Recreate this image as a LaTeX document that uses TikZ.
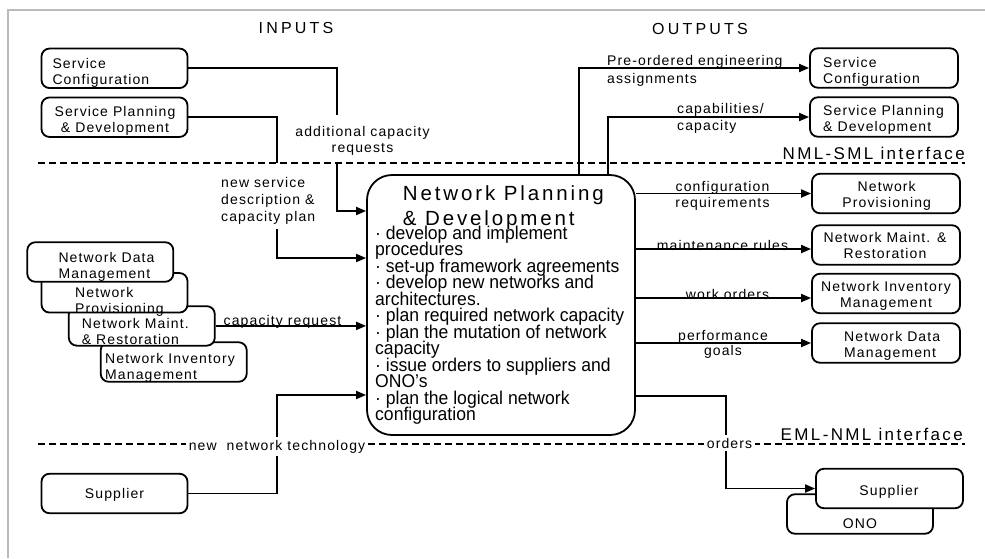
\documentclass[tikz,border=0pt]{standalone}
\usepackage{fontspec}
\setmainfont{Liberation Sans}
\newfontfamily\lblfont{Liberation Sans}[LetterSpace=8]
\newfontfamily\headfont{Liberation Sans}[LetterSpace=20]
\newfontfamily\ifacefont{Liberation Sans}[LetterSpace=14]
\newfontfamily\titlefont{Liberation Sans}[LetterSpace=14]
\newfontfamily\listfont{Liberation Sans}[FakeStretch=0.95]
% let lines of a tightly set list sit closer than their glyph heights
\newcommand\tightlines{\lineskiplimit=-100pt\relax\lineskip=0pt\relax}
\usetikzlibrary{arrows.meta}
\begin{document}
\begin{tikzpicture}[x=1pt,y=-1pt,
  box/.style={draw, line width=1.8pt, rounded corners=8pt, fill=white, inner sep=0pt,
              minimum width=146pt, minimum height=39.5pt},
  rbox/.style={box, minimum width=148pt},
  mainbox/.style={draw, line width=1.8pt, rounded corners=25pt, fill=white, inner sep=0pt,
              minimum width=268pt, minimum height=260pt},
  conn/.style={line width=1.8pt, -{Triangle[length=10pt,width=8pt]}},
  wire/.style={line width=1.8pt},
  iface/.style={line width=1.8pt, dash pattern=on 7pt off 4pt},
  frame/.style={draw=black!27, line width=1.6pt},
  lbl/.style={font=\lblfont\fontsize{14}{#1}\selectfont, inner sep=0pt},
  lbl/.default=16,
  gaplbl/.style={lbl, fill=white, inner sep=3pt},
  head/.style={font=\headfont\fontsize{16}{19}\selectfont, inner sep=0pt},
  ifacelbl/.style={font=\ifacefont\fontsize{17}{20}\selectfont, inner sep=0pt},
  titletext/.style={font=\titlefont\fontsize{20.5}{24.3}\selectfont, inner sep=0pt},
  listtext/.style={font={\listfont\fontsize{18.5}{16.5}\selectfont\tightlines},
              inner sep=0pt}
]
% multi-line nodes are placed by the baseline of their last line
\useasboundingbox (0,0) rectangle (985,558);

% outer frame
\draw[frame] (8,558) -- (8,10) -- (985,10);

% management layer interfaces
\draw[iface] (38,163) -- (965,163);
\draw[iface] (38,444) -- (965,444);

% central function
\node[mainbox] (npd) at (501,305) {};
\node[titletext, anchor=base west, align=left] (npd-title) at (402.7,225)
  {Network Planning\\\& Development};
\node[listtext, anchor=base west, align=left] (npd-list) at (375,420.8)
  {· develop and implement\\procedures\\· set-up framework agreements\\%
   · develop new networks and\\architectures.\\· plan required network capacity\\%
   · plan the mutation of network\\capacity\\· issue orders to suppliers and\\%
   ONO’s\\· plan the logical network\\configuration};

% input sources
\node[box] (scin) at (114.5,68.3) {};
\node[lbl, anchor=base west, align=left] (scin-t) at (52.3,84.3) {Service\\Configuration};
\node[box] (spdin) at (114.5,117.2) {};
\node[lbl, anchor=base, align=center] (spdin-t) at (115,132) {Service Planning\\\& Development};

\node[box] (nimin) at (173.7,362) {};
\node[lbl, anchor=base west, align=left] (nimin-t) at (105,379.3) {Network Inventory\\Management};
\node[box] (nmrin) at (141.8,325.9) {};
\node[lbl, anchor=base west, align=left] (nmrin-t) at (81.7,344.3) {Network Maint.\\\& Restoration};
\node[box] (npin) at (114.5,292.8) {};
\node[lbl, anchor=base west, align=left] (npin-t) at (75,313) {Network\\Provisioning};
\node[box] (ndmin) at (100.3,262) {};
\node[lbl, anchor=base west, align=left] (ndmin-t) at (58.3,278.3) {Network Data\\Management};

\node[box] (supin) at (114.5,493.5) {};
\node[lbl, anchor=base] (supin-t) at (114.5,498.5) {Supplier};

% output targets
\node[rbox] (scout) at (884,68) {};
\node[lbl, anchor=base west, align=left] (scout-t) at (823,83.3) {Service\\Configuration};
\node[rbox] (spdout) at (884,117) {};
\node[lbl, anchor=base west, align=left] (spdout-t) at (823,131.7) {Service Planning\\\& Development};
\node[rbox] (npout) at (886,193.5) {};
\node[lbl, anchor=base, align=center] (npout-t) at (886.7,207.7) {Network\\Provisioning};
\node[rbox] (nmrout) at (886,245) {};
\node[lbl, anchor=base, align=center] (nmrout-t) at (885,258.7) {Network Maint. \&\\Restoration};
\node[rbox] (nimout) at (886,293.5) {};
\node[lbl, anchor=base, align=center] (nimout-t) at (886,307.7) {Network Inventory\\Management};
\node[rbox] (ndmout) at (886,343) {};
\node[lbl, anchor=base west, align=left] (ndmout-t) at (844,357.7) {Network Data\\Management};

\node[box] (onoout) at (860,514) {};
\node[lbl, anchor=base] (onoout-t) at (860,528.3) {ONO};
\node[rbox, minimum width=147pt] (supout) at (889.5,488.5) {};
\node[lbl, anchor=base] (supout-t) at (889,495) {Supplier};

% input flows
\coordinate (g1a) at (337,115);
\coordinate (g1b) at (337,163);
\coordinate (j1) at (337,211);
\draw[wire] (scin.east) -| (g1a);
\draw[conn] (g1b) -- (j1) -- (npd.west |- j1);

\coordinate (g2a) at (277,163);
\coordinate (g2b) at (277,229);
\coordinate (j2) at (277,258);
\draw[wire] (spdin.east) -| (g2a);
\draw[conn] (g2b) -- (j2) -- (npd.west |- j2);

\draw[conn] (nmrin.east) -- (npd.west |- nmrin.east);

\coordinate (j4) at (277,395);
\draw[conn] (supin.east) -| (j4) -- (npd.west |- j4);

% output flows
\draw[conn] ([xshift=78pt]npd.north) |- (scout.west);
\draw[conn] ([xshift=107pt]npd.north) |- (spdout.west);
\draw[conn] (npd.east |- npout.west) -- (npout.west);
\coordinate (t8) at ([yshift=-4pt]nmrout.west);
\draw[conn] (npd.east |- t8) -- (t8);
\coordinate (t9) at ([yshift=-4.5pt]nimout.west);
\draw[conn] (npd.east |- t9) -- (t9);
\draw[conn] (npd.east |- ndmout.west) -- (ndmout.west);
\coordinate (j10) at (726,396);
\draw[conn] (npd.east |- j10) -- (j10) |- (supout.west);

% flow labels
\node[lbl, anchor=base, align=center] (l1) at (362.5,152.7) {additional capacity\\requests};
\node[lbl=17, anchor=base west, align=left] (l2) at (221,221) {new service\\description \&\\capacity plan};
\node[lbl, anchor=base] (l3) at (282.5,325) {capacity request};
\node[gaplbl, anchor=base] (l4) at (277,450.5) {new~~network technology};
\node[lbl=18, anchor=base west, align=left] (l5) at (607,83) {Pre-ordered engineering\\assignments};
\node[lbl=17, anchor=base west, align=left] (l6) at (677,130) {capabilities/\\capacity};
\node[lbl, anchor=base, align=center] (l7) at (722.5,207.7) {configuration\\requirements};
\node[lbl, anchor=base] (l8) at (722.5,250) {maintenance rules};
\node[lbl, anchor=base] (l9) at (727.5,299) {work orders};
\node[lbl=15, anchor=base, align=center] (l10) at (723,355) {performance\\goals};
\node[gaplbl, anchor=base] (l11) at (729.5,448.3) {orders};

% headings
\node[head, anchor=base] (inputs) at (296,33.5) {INPUTS};
\node[head, anchor=base] (outputs) at (700,34) {OUTPUTS};
\node[ifacelbl, anchor=base east] (nmlsml) at (965,159.5) {NML-SML interface};
\node[ifacelbl, anchor=base east] (emlnml) at (963,440) {EML-NML interface};
\end{tikzpicture}
\end{document}
